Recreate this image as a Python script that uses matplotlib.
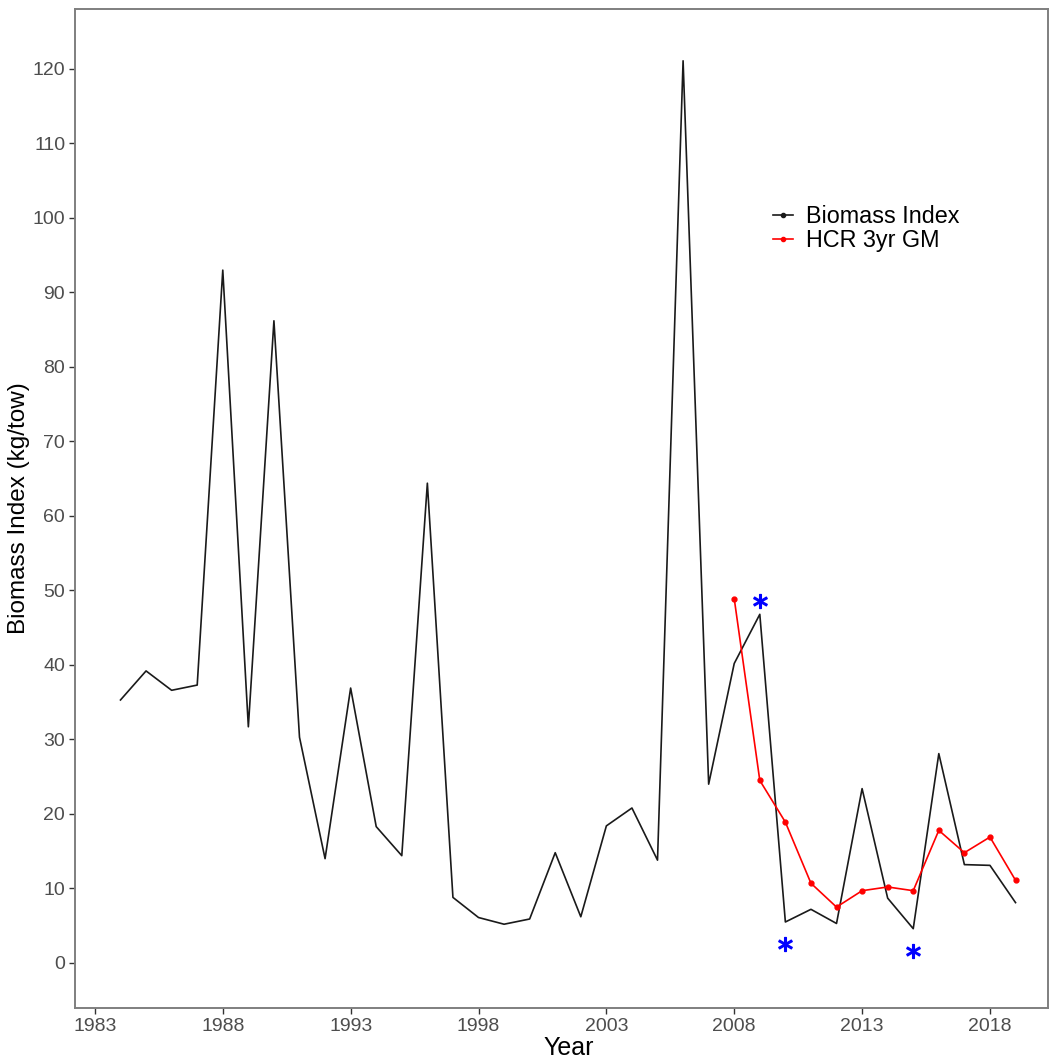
import matplotlib
matplotlib.use("Agg")
import matplotlib.pyplot as plt
import numpy as np

years = list(range(1984, 2020))
biomass = [35.3, 39.2, 36.6, 37.3, 93.0, 31.7, 86.2, 30.3, 14.0, 36.9,
           18.3, 14.4, 64.4, 8.8, 6.1, 5.2, 5.9, 14.8, 6.2, 18.4,
           20.8, 13.8, 121.1, 24.0, 40.2, 46.8, 5.5, 7.2, 5.3, 23.4,
           8.7, 4.6, 28.1, 13.2, 13.1, 8.1]
hcr_years = list(range(2008, 2020))
hcr_gm = [48.9, 24.5, 18.9, 10.7, 7.5, 9.7, 10.2, 9.7, 17.8, 14.8, 16.9, 11.1]
star_years = [2009, 2010, 2015]
star_vals = [48.6, 2.6, 1.6]
x_ticks = [1983, 1988, 1993, 1998, 2003, 2008, 2013, 2018]
y_ticks = list(range(0, 130, 10))

plt.rcParams['font.family'] = ['Liberation Sans', 'DejaVu Sans']

fig = plt.figure(figsize=(10.5, 10.59), dpi=100)
ax = fig.add_axes([0.0714, 0.0482, 0.9267, 0.9433])

ax.plot(years, biomass, color='#1a1a1a', lw=1.2, label='Biomass Index')
ax.plot(hcr_years, hcr_gm, color='red', lw=1.2, marker='o', markersize=3.5,
        label='HCR 3yr GM')
ax.plot(star_years, star_vals, linestyle='none', marker='$*$', markersize=10,
        color='blue')

ax.set_xlim(1982.22, 2020.27)
ax.set_ylim(-6.04, 128.05)
ax.set_xticks(x_ticks)
ax.set_yticks(y_ticks)
ax.tick_params(axis='both', labelsize=14, labelcolor='#4D4D4D', color='#333333',
               length=4, width=1, direction='out', pad=3)
for s in ax.spines.values():
    s.set_color('#7F7F7F')
    s.set_linewidth(1.4)

ax.set_xlabel('Year', fontsize=18, color='black', labelpad=0)
ax.xaxis.set_label_coords(0.507, -0.028, transform=ax.transAxes)
ax.xaxis.label.set_va('top')
ax.set_ylabel('Biomass Index (kg/tow)', fontsize=17.5, color='black', labelpad=2)

leg = ax.legend(loc='upper left', bbox_to_anchor=(0.717, 0.804), frameon=False,
                fontsize=16.8, handlelength=0.86, handletextpad=0.56,
                labelspacing=0.05, borderaxespad=0, borderpad=0)
for h in leg.legend_handles:
    h.set_marker('o')
    h.set_markersize(3)

fig.savefig('out.png', dpi=100, facecolor='white')
